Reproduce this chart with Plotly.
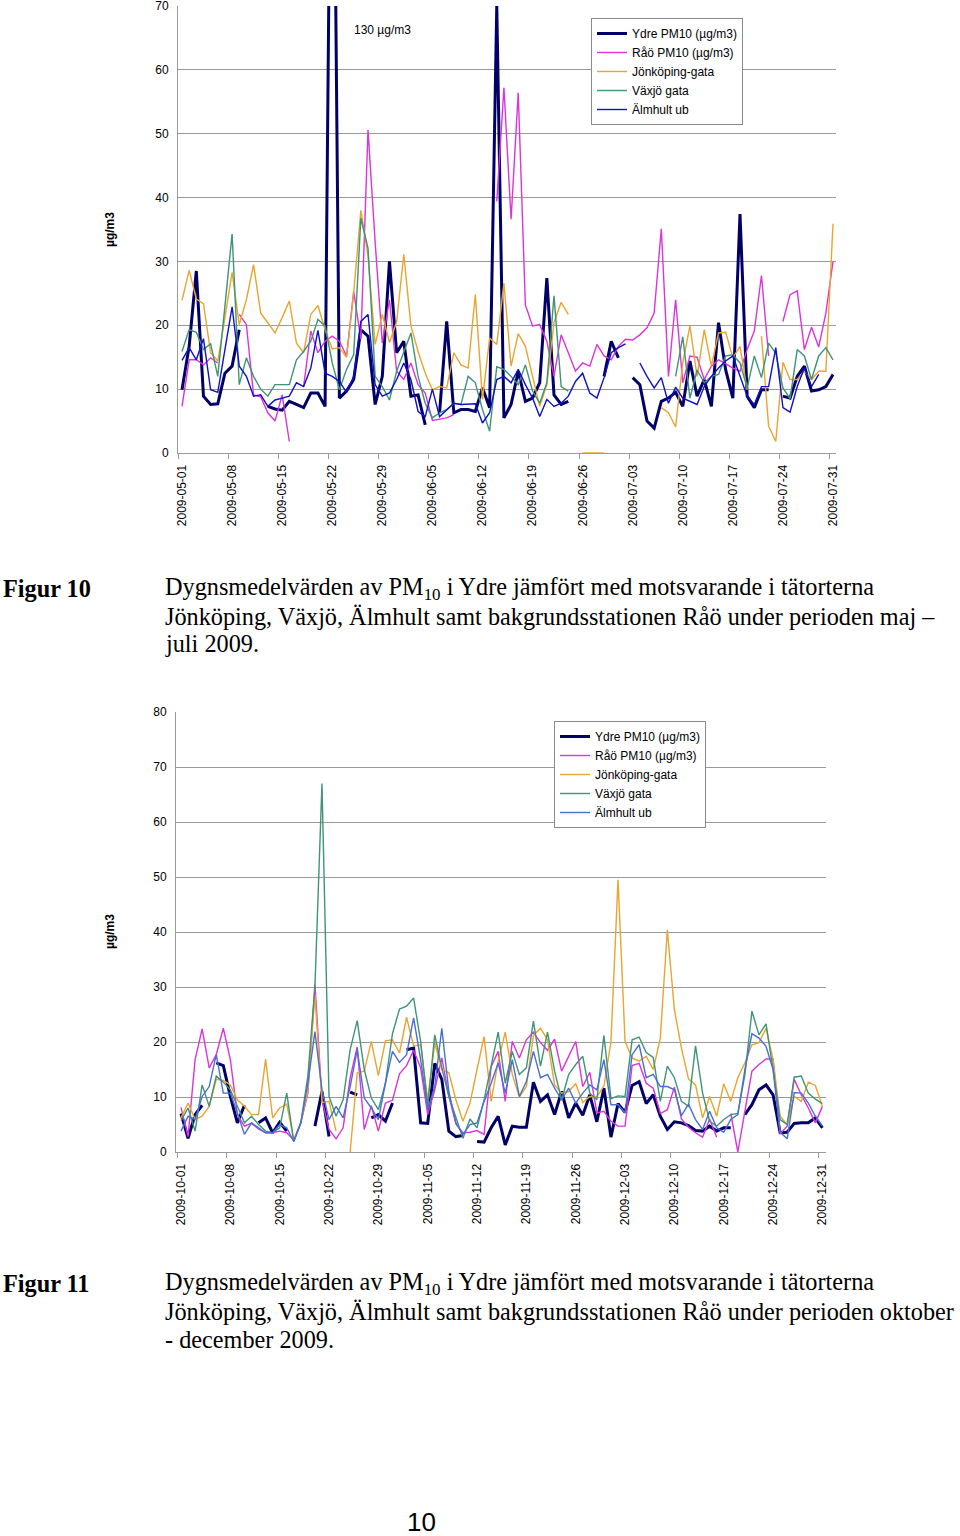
import plotly.graph_objects as go
import pandas as pd

N = None
# ---------------- Figure 10 data (2009-05-01 .. 2009-07-31) ----------------
ydre1 = [9.9, 16.7, 28.5, 8.9, 7.6, 7.7, 12.5, 13.6, 19.3, N,
         N, N, 7.3, 6.9, 6.7, 8.1, 7.6, 7.1, 9.4, 9.4,
         7.3, 130, 8.6, 9.7, 11.5, 19.3, 18.3, 7.6, 12, 30.0,
         15.7, 17.5, 8.9, 9.1, 4.4, N, 6.3, 20.6, 6.3, 6.8,
         6.8, 6.5, 10.2, 7.1, 70, 5.5, 7.6, 12.8, 8.1, 8.6,
         11, 27.4, 9.1, 7.6, 8.1, N, N, N, N, 12,
         17.5, 14.9, N, 11.8, 10.7, 5.0, 3.9, 8.1, 8.6, 9.5,
         7.3, 14.4, 8.9, 11.5, 7.3, 20.4, 13, 8.6, 37.4, 8.9,
         7.1, 9.9, 9.9, N, 8.9, 8.6, 12, 13.6, 9.7, 9.9,
         10.4, 12.3]
rao1 = [7.3, 14.6, 14.6, 13.8, 14.9, 14.1, N, N, 21.7, 20.1,
        9.1, 8.8, 6.3, 5.0, 9.1, 1.8, N, 10.4, 19.1, 15.7,
        17.5, 18.3, 17.5, 15.2, 25.3, 17.8, 50.6, 33, 17.2, 24.0,
        12.8, 11.5, 14.1, 10.7, 9.4, 5.1, 5.3, 5.5, 6.0, N,
        N, N, N, N, 39.4, 57.2, 36.6, 56.4, 23.2, 19.9,
        20.1, 17.5, 12, 18.5, 15.7, 12.8, 14.1, 13.6, 17, 15.2,
        14.6, 16.7, 17.8, 17.7, 18.5, 19.6, 21.9, 35.1, 12, 24.0,
        11, 15.2, 15.0, 11.5, 13.6, 14.6, 14, 13.3, 12.8, 16.2,
        19.1, 27.8, 15.2, N, 20.6, 24.8, 25.4, 16.2, 19.7, 16.6,
        21.9, 30]
jon1 = [23.9, 28.6, 24.1, 23.4, 15.7, 14.4, 21.2, 28.3, 20.1, 24.0,
        29.5, 21.9, 20.4, 18.8, 21.2, 23.8, 17.2, 15.7, 21.7, 23.1,
        19.3, 16.3, 16.5, 15.0, 25.1, 38.0, 30.8, 17.0, 21.7, 17.3,
        20.5, 31.1, 19.9, 15.9, 12.5, 9.9, 10.4, 10.2, 15.7, 13.8,
        13.3, 24.8, 8.4, 18, 17, 26.6, 13.6, 18.7, 16.7, 12,
        7.3, 10.7, 20.4, 23.6, 21.7, N, 0, 0, 0, 0,
        N, N, N, N, N, N, N, 7.1, 6.3, 4.1,
        14.1, 19.9, 12, 19.3, 13.6, 18.8, 18.9, 14.9, 16.7, 9.9,
        N, 18.3, 4.2, 1.8, 14.2, 11.5, 11.5, 12.8, 11.5, 12.8,
        12.8, 35.9]
vax1 = [15.9, 19.3, 18.9, 16.2, 17.1, 12, 23.0, 34.3, 10.7, 14.9,
        12, 10, 8.9, 10.7, 10.7, 10.7, 14.6, 15.9, 17.5, 20.9,
        19.9, 14.1, 9.9, 13.1, 15.4, 36.8, 32.1, 12, 10.4, 8.3,
        12.8, 15.9, 18.8, 12, 7.8, 5.5, 6.3, 6.8, 7.8, 7.6,
        12, 11, 6.8, 3.4, 13.5, 13.1, 12, 10.7, 13.8, 9.7,
        7.8, 11, 24.6, 10.4, 9.7, N, N, N, N, N,
        N, N, N, N, N, N, N, N, N, 12,
        18.2, 8.6, 13, 11, 12, 12.3, 15.2, 15.4, 14.1, 10.2,
        15.2, 11.8, 17.2, 15.6, 10.2, 8.5, 16.2, 15.2, 11.5, 15.2,
        16.5, 14.6]
alm1 = [14.5, 16.5, 14.6, 17.9, 9.9, 9.5, 16.2, 22.9, 13.6, 12,
        8.9, 9.1, 7.3, 8.3, 8.6, 8.9, 11, 10.4, 13.3, 19.2,
        12.5, 12, 11.2, 9.5, 12, 20.6, 21.7, 10.7, 8.9, 9.4,
        11.5, 14.1, 11.5, 6.5, 5.7, 10, 5.7, 6.8, 7.8, 7.6,
        7.6, 7.7, 4.7, 6.3, 11.5, 12, 11, 13.1, 10.7, 8.6,
        5.7, 8.4, 7.3, 7.8, 8.9, 11.2, 12.5, 9.4, 8.6, 11.8,
        15.7, 16.5, 17.1, N, 14.1, 12, 10.2, 11.8, 7.8, 10.3,
        8.6, 8.1, 7.6, 10.4, 12, 13.3, 14.4, 15.2, 12, 8.9,
        7.6, 10.4, 10.4, 16.5, 7.1, 6.4, 10.4, 13.3, 10.4, 12.3,
        N, N]

# ---------------- Figure 11 data (2009-10-01 .. 2009-12-31) ----------------
ydre2 = [7.0, 2.5, 6.8, 8.5, N, 16.2, 15.7, 10.1, 5.3, 8.5,
         N, 5.3, 6.2, 3.5, 5.4, 3.8, N, N, N, 4.7,
         11.0, 2.8, N, N, 10.9, 10.4, N, 6.2, 6.8, 5.6,
         8.9, N, 18.6, 18.9, 5.3, 5.2, 16.1, 13.2, 3.8, 2.8,
         3.0, N, 1.9, 1.8, 4.4, 6.5, 1.3, 4.7, 4.5, 4.5,
         12.7, 9.2, 10.4, 6.8, 11.0, 6.2, 8.9, 6.7, 10.4, 5.5,
         11.6, 2.7, 8.8, 7.2, 12.1, 12.8, 8.8, 10.4, 6.5, 4.1,
         5.5, 5.3, 4.8, 3.9, 3.8, 4.7, 3.8, 4.4, 4.4, N,
         6.8, 8.6, 11.3, 12.2, 10.4, 3.5, 3.6, 5.2, 5.3, 5.3,
         6.2, 4.4]
rao2 = [8.1, 2.8, 16.8, 22.4, 15.3, 17.7, 22.5, 16.8, 6.8, 4.7,
        5.2, 4.2, 3.5, 3.5, 3.8, 3.5, 2.2, 5.3, 10.7, 30.5,
        9.5, 4.1, 2.4, 4.4, 13.5, 19.1, 4.1, 8.4, 3.8, 8.9,
        9.4, 14.2, 15.7, 18.5, 15.3, 6.8, 11.3, 17.1, 10.2, 5.1,
        3.5, 3.6, 3.9, 3.2, 15.5, 18.3, 9.2, 20.1, 17.1, 20.4,
        21.8, 19.9, 18.5, 20.5, 14.7, 17.4, 20.1, 11.9, 14.5, 7.1,
        7.4, 5.6, 4.7, 4.7, 15.7, 16.1, 12.5, 11.6, 7.0, 7.7,
        11.8, 6.0, 4.5, 3.5, 2.7, 6.0, 2.7, N, 7.0, 0,
        7.4, 14.7, 15.9, 16.9, 16.9, 3.3, 4.7, 13.2, 10.4, 8.0,
        5.3, 8.3]
jon2 = [6.2, 8.9, 5.9, 6.5, 8.3, 13.2, 13.0, 12.2, 9.5, 8.3,
        6.8, 6.8, 16.9, 6.2, 8.0, 8.7, 2.2, 5.3, 11.0, 28.6,
        9.0, 9.2, 3.8, N, 0, 14.4, 14.7, 20.1, 13.9, 20.2,
        20.4, 18, 24.5, 19.3, 19.5, 9.5, 19.8, 15.1, 14.4, 9.5,
        5.6, 8.9, 15.0, 21.0, 9.2, 16.5, 21.8, 14.1, 10.0, 11.9,
        21.2, 22.5, 20.4, 12.2, 10.7, 11.0, 12.4, 9.0, 10.1, 10,
        12, 20, 49.5, 20.1, 17.1, 16.5, 17.4, 15.0, 20.7, 40.4,
        25.9, 18.9, 13.3, 12.2, 6.2, 10.1, 6.5, 12.4, 9.2, 13.5,
        16.2, 19.5, 19.9, 22.5, 16.8, 6.5, 5.0, 10.1, 9.2, 12.7,
        12.1, 8.3]
vax2 = [5.7, 8.0, 3.8, 12.2, 8.3, 13.8, 12.7, 11.3, 8.3, 5.3,
        6.5, 5.0, 3.8, 3.5, 4.4, 10.7, 1.9, 5.3, 13.8, 30,
        67, 10.1, 6.5, 9.5, 18.6, 23.9, 15.0, 9.8, 7.7, 12.5,
        21.5, 26.0, 26.5, 28.0, 20.1, 8.3, 21.3, 15.3, 10.1, 6.2,
        2.5, 6.0, 4.4, 9.5, 15.6, 21.8, 12.5, 18.3, 14.1, 15.3,
        23.8, 15.6, 21.8, 14.7, 9.5, 14.1, 15.9, 17.4, 10.7, 9.5,
        21.2, 9.7, 10.2, 10.1, 20.4, 20.9, 18.1, 17.2, 9.2, 15.6,
        13.5, 9.2, 8.3, 19.3, 10.7, 5.6, 4.7, 5.9, 6.8, 7,
        14, 25.6, 21.3, 23.3, 15.0, 5.9, 5.0, 13.6, 13.8, 10.7,
        9.6, 8.8]
alm2 = [3.8, 6.5, 5.9, 10.1, 11.9, 17.7, 10.7, 10.7, 7.1, 3.2,
        5.3, 4.4, 3.5, 3.5, 5.0, 4.4, 1.9, 5.3, 12.5, 21.9,
        11.3, 5.9, 8.3, 6.2, 11.9, 18.6, 9.8, 8.0, 5.9, 12.5,
        18.3, 16.3, 17.7, 24.4, 16.8, 7.7, 11.9, 22.5, 11.0, 5.3,
        3.2, 5.0, 5.3, 9.2, 12.5, 16.2, 10.7, 16.8, 10.1, 12.8,
        18.3, 13.5, 14.1, 11.6, 9.5, 11.6, 8.9, 10.7, 12.2, 11.3,
        16.8, 8.6, 8.6, 7.1, 17.7, 19.5, 13.5, 14.1, 11.9, 11.9,
        11.3, 6.6, 8.7, 5.9, 4.1, 7.4, 4.4, 3.6, 5.9, 6.8,
        15, 21.5, 20.7, 19.2, 15.0, 3.6, 2.4, 10.8, 10.7, 8.9,
        6.5, 4.7]

names = ["Ydre PM10 (µg/m3)", "Råö PM10 (µg/m3)", "Jönköping-gata", "Växjö gata", "Älmhult ub"]
colors1 = ["#000066", "#DD33DD", "#E8A530", "#3F9474", "#1010C8"]
colors2 = ["#000066", "#DD33DD", "#E8A530", "#3F9474", "#4A6FD2"]
widths = [3, 1.4, 1.4, 1.4, 1.4]

dates1 = pd.date_range("2009-05-01", "2009-07-31", freq="D")
dates2 = pd.date_range("2009-10-01", "2009-12-31", freq="D")
for s in [ydre1, rao1, jon1, vax1, alm1]:
    assert len(s) == len(dates1), len(s)
for s in [ydre2, rao2, jon2, vax2, alm2]:
    assert len(s) == len(dates2), len(s)

fig = go.Figure()
for nm, col, w, ys in zip(names, colors1, widths, [ydre1, rao1, jon1, vax1, alm1]):
    fig.add_trace(go.Scatter(x=dates1, y=ys, mode="lines", name=nm,
                             line=dict(color=col, width=w), xaxis="x", yaxis="y",
                             legend="legend"))
for nm, col, w, ys in zip(names, colors2, widths, [ydre2, rao2, jon2, vax2, alm2]):
    fig.add_trace(go.Scatter(x=dates2, y=ys, mode="lines", name=nm,
                             line=dict(color=col, width=w), xaxis="x2", yaxis="y2",
                             legend="legend2"))

W, H = 960, 1536
DAY = 86400000
GRID = "#9a9a9a"
FONT = "Liberation Sans, Arial, sans-serif"


def py(p):
    return 1 - p / H


def xaxis_cfg(d0, d1, left, right, lpad, rpad):
    return dict(
        domain=[left / W, right / W], anchor=None, automargin=False,
        type="date",
        range=[(d0 - pd.Timedelta(days=lpad)).strftime("%Y-%m-%d %H:%M"),
               (d1 + pd.Timedelta(days=rpad)).strftime("%Y-%m-%d %H:%M")],
        tickmode="linear", tick0=d0.strftime("%Y-%m-%d"), dtick=7 * DAY,
        tickformat="%Y-%m-%d", tickangle=-90, ticklabeloverflow="allow",
        ticks="outside", ticklen=6, tickcolor="rgba(0,0,0,0)",
        minor=dict(ticks="outside", ticklen=5, tickcolor=GRID, showgrid=False,
                   tick0=(d0 - pd.Timedelta(hours=12)).strftime("%Y-%m-%d %H:%M"),
                   dtick=7 * DAY),
        showgrid=False, showline=True, linecolor=GRID, linewidth=1,
        tickfont=dict(family=FONT, size=12, color="#000"),
        zeroline=False,
    )


xa1 = xaxis_cfg(dates1[0], dates1[-1], 178, 836, 0.56, 0.42)
xa1["anchor"] = "y"
xa2 = xaxis_cfg(dates2[0], dates2[-1], 176, 826, 0.71, 0.51)
xa2["anchor"] = "y2"


def yaxis_cfg(top, bottom, ymax, anchor):
    return dict(
        domain=[py(bottom), py(top)], anchor=anchor, automargin=False,
        range=[0, ymax], tickmode="linear", tick0=0, dtick=10,
        showgrid=True, gridcolor=GRID, gridwidth=1,
        showline=True, linecolor=GRID, linewidth=1,
        zeroline=False, ticks="", ticklabelstandoff=6, ticklabeloverflow="allow",
        tickfont=dict(family=FONT, size=12, color="#000"),
    )


ya1 = yaxis_cfg(6, 453, 70, "x")
ya2 = yaxis_cfg(712, 1152, 80, "x2")

leg_common = dict(font=dict(family=FONT, size=12, color="#000"), bgcolor="white",
                  bordercolor="#8a8a8a", borderwidth=1, xanchor="left", yanchor="top",
                  itemwidth=30, tracegroupgap=0)


def ann(text, xp, yp, size=12, family=FONT, xanchor="center", angle=0):
    return dict(text=text, x=xp / W, y=py(yp), xref="paper", yref="paper",
                xanchor=xanchor, yanchor="middle", textangle=angle, showarrow=False,
                font=dict(family=family, size=size, color="#000"))


annotations = [
    ann("130 µg/m3", 382, 30),
    ann("<b>µg/m3</b>", 110, 230, angle=-90),
    ann("<b>µg/m3</b>", 110, 932, angle=-90),
    ann("10", 421, 1522, size=26),
]

SERIF = "Liberation Serif, Times New Roman, serif"
CAP = 24.25
captions = [
    ("<b>Figur 10</b>", 1, 588),
    ("Dygnsmedelvärden av PM<sub>10</sub> i Ydre jämfört med motsvarande i tätorterna", 163, 588),
    ("Jönköping, Växjö, Älmhult samt bakgrundsstationen Råö under perioden maj –", 163, 616),
    ("juli 2009.", 163, 644),
    ("<b>Figur 11</b>", 1, 1283),
    ("Dygnsmedelvärden av PM<sub>10</sub> i Ydre jämfört med motsvarande i tätorterna", 163, 1283),
    ("Jönköping, Växjö, Älmhult samt bakgrundsstationen Råö under perioden oktober", 163, 1311),
    ("- december 2009.", 163, 1339),
]
for txt, xp, yp in captions:
    annotations.append(ann(txt, xp, yp, size=CAP, family=SERIF, xanchor="left"))

fig.update_layout(
    width=W, height=H, margin=dict(l=0, r=0, t=0, b=0, autoexpand=False),
    paper_bgcolor="white", plot_bgcolor="white",
    xaxis=xa1, yaxis=ya1, xaxis2=xa2, yaxis2=ya2,
    legend=dict(x=591 / W, y=py(18), **leg_common),
    legend2=dict(x=554 / W, y=py(721), **leg_common),
    annotations=annotations,
    showlegend=True,
)

fig.write_html("out.html", config={"displayModeBar": False},
               post_script="document.body.style.margin='0';")
